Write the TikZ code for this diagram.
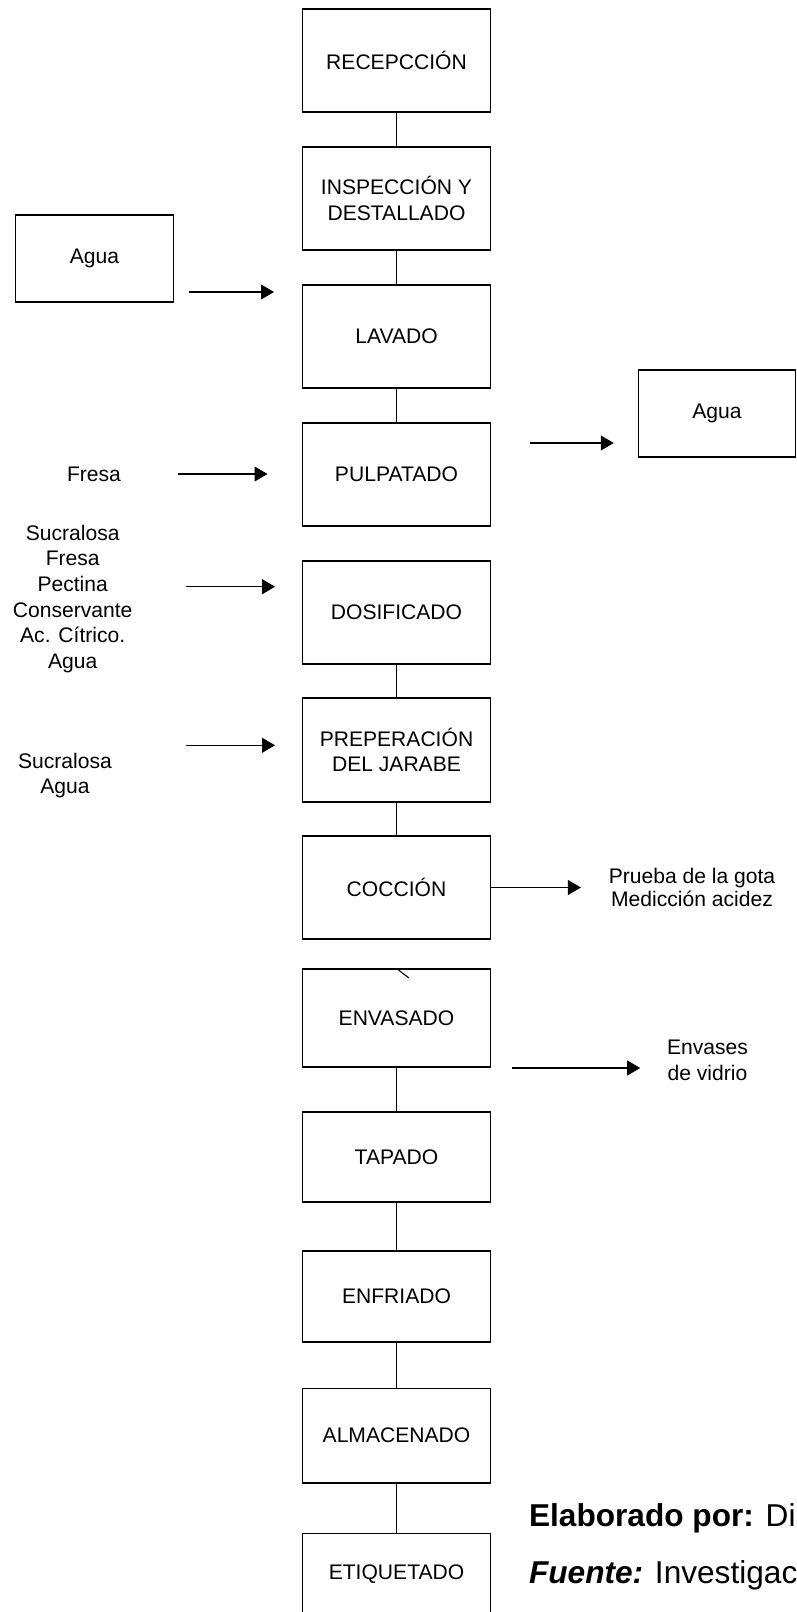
\documentclass[tikz,border=0pt]{standalone}
\usepackage{fontspec}
\setmainfont{Liberation Sans}
\usetikzlibrary{arrows.meta}

\begin{document}
\begin{tikzpicture}[x=0.02cm, y=-0.02cm,
		proceso/.style={draw, line width=0.6pt, minimum width=3.76cm, minimum height=2.06cm, align=center, font=\fontsize{12}{14.6}\selectfont},
		caja/.style={draw, line width=0.6pt, minimum width=3.16cm, minimum height=1.74cm, font=\fontsize{12}{14.6}\selectfont},
		texto/.style={align=center, inner sep=0pt, font=\fontsize{12}{14.6}\selectfont},
		flecha/.style={-{Triangle[length=2.6mm,width=3mm]}, line width=0.6pt},
		linea/.style={line width=0.6pt}]

	\useasboundingbox (0,0) rectangle (797,1612);

	% etapas del proceso
	\node[proceso] (recepcion) at (396.5,60.5) {RECEPCCIÓN};
	\node[proceso] (inspeccion) at (396.5,198.5) {INSPECCIÓN Y\\DESTALLADO};
	\node[proceso] (lavado) at (396.5,336.5) {LAVADO};
	\node[proceso] (pulpatado) at (396.5,474.5) {PULPATADO};
	\node[proceso] (dosificado) at (396.5,612.5) {DOSIFICADO};
	\node[proceso, minimum height=2.08cm] (preparacion) at (396.5,750) {PREPERACIÓN\\DEL JARABE};
	\node[proceso] (coccion) at (396.5,887.5) {COCCIÓN};
	\node[proceso, minimum height=1.96cm] (envasado) at (396.5,1018) {ENVASADO};
	\node[proceso, minimum height=1.8cm] (tapado) at (396.5,1157) {TAPADO};
	\node[proceso, minimum height=1.82cm] (enfriado) at (396.5,1296.5) {ENFRIADO};
	\node[proceso, minimum height=1.9cm] (almacenado) at (396.5,1435.5) {ALMACENADO};
	\node[proceso, minimum height=1.64cm] (etiquetado) at (396.5,1574) {ETIQUETADO};

	\draw[linea] (recepcion) -- (inspeccion);
	\draw[linea] (inspeccion) -- (lavado);
	\draw[linea] (lavado) -- (pulpatado);
	\draw[linea] (dosificado) -- (preparacion);
	\draw[linea] (preparacion) -- (coccion);
	\draw[linea] (envasado) -- (tapado);
	\draw[linea] (tapado) -- (enfriado);
	\draw[linea] (enfriado) -- (almacenado);
	\draw[linea] (almacenado) -- (etiquetado);
	\draw[linea] (envasado.north) -- ++(12.5,9.5);

	% entradas y salidas
	\node[caja] (aguaA) at (94.5,258.5) {Agua};
	\node[caja, minimum width=3.15cm] (aguaB) at (717,413.5) {Agua};
	\node[texto] (fresa) at (94,474) {Fresa};
	\node[texto] (insumos) at (72.7,599) {Sucralosa\\Fresa\\Pectina\\Conservante\\Ac. Cítrico.\\Agua};
	\node[texto] (jarabe) at (65,775.5) {Sucralosa\\Agua};
	\node[texto, font=\fontsize{12}{13.2}\selectfont] (prueba) at (692,887.5) {Prueba de la gota\\Medicción acidez};
	\node[texto, font=\fontsize{12}{14.8}\selectfont] (envases) at (707.5,1060) {Envases\\de vidrio};

	\draw[flecha, shorten <=0.3cm, shorten >=0.56cm] (aguaA.east |- 0,292) -- (lavado.west |- 0,292);
	\draw[flecha, shorten <=0.77cm, shorten >=0.48cm] (pulpatado.east |- 0,443) -- (aguaB.west |- 0,443);
	\draw[flecha, shorten <=1.14cm, shorten >=0.69cm] (fresa.east) -- (pulpatado.west |- fresa.east);
	\draw[flecha, shorten <=1.07cm, shorten >=0.54cm] (insumos.east |- 0,586.7) -- (dosificado.west |- 0,586.7);
	\draw[flecha, shorten <=1.48cm, shorten >=0.54cm] (jarabe.east |- 0,745.3) -- (preparacion.west |- 0,745.3);
	\draw[flecha, shorten >=0.55cm] (coccion.east) -- (prueba.west |- coccion.east);
	\draw[flecha, shorten <=0.41cm, shorten >=0.53cm] (envasado.east |- 0,1068) -- (envases.west |- 0,1068);

	% fuente
	\node[anchor=base west, inner sep=0pt, font=\fontsize{18}{21}\selectfont] (elaborado) at (528.7,1526) {\textbf{Elaborado por:} Dia};
	\node[anchor=base west, inner sep=0pt, font=\fontsize{18}{21}\selectfont] (fuente) at (528.7,1583) {\textbf{\textit{Fuente:}} Investigac};
\end{tikzpicture}
\end{document}
